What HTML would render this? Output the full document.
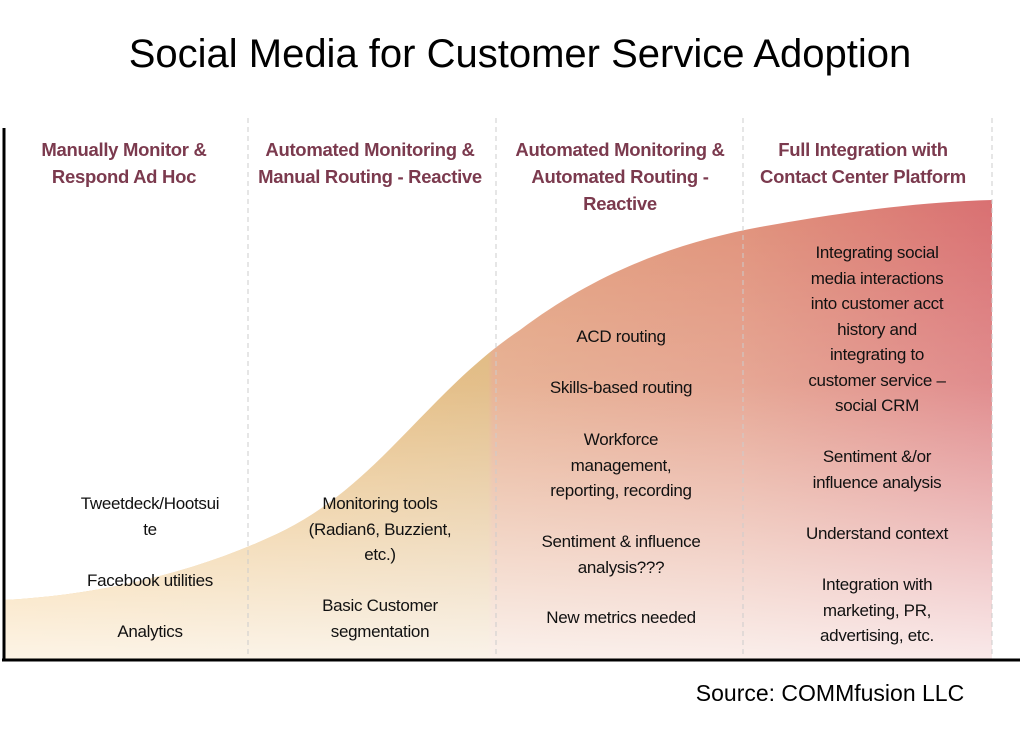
<!DOCTYPE html>
<html><head><meta charset="utf-8"><style>
body{margin:0;width:1024px;height:729px;background:#fff;position:relative;overflow:hidden;font-family:"Liberation Sans Narrow","Liberation Sans",sans-serif;}
.t{position:absolute;text-align:center;}
.h{color:#7b3a4e;font-weight:bold;font-size:18.5px;line-height:27px;letter-spacing:-0.3px;}
.b{color:#111;font-size:17px;line-height:25.5px;letter-spacing:-0.3px;}
</style></head><body>
<svg width="1024" height="729" style="position:absolute;left:0;top:0">
<defs>
<linearGradient id="hc" gradientUnits="userSpaceOnUse" x1="4" y1="0" x2="992" y2="0">
<stop offset="0" stop-color="#f0b65a"/><stop offset="0.49" stop-color="#dcaf6e"/><stop offset="0.495" stop-color="#e2a07c"/><stop offset="0.75" stop-color="#e0917a"/><stop offset="1" stop-color="#d97072"/>
</linearGradient>
<linearGradient id="vw" gradientUnits="userSpaceOnUse" x1="0" y1="200" x2="0" y2="660">
<stop offset="0" stop-color="#fff" stop-opacity="0"/><stop offset="0.4" stop-color="#fff" stop-opacity="0.2"/><stop offset="1" stop-color="#fff" stop-opacity="0.85"/>
</linearGradient>
</defs>
<path d="M4,600 C100,595 200,572 285,530 C380,482 430,390 520,330 C600,270 680,242 760,227 C850,211 920,202 992,200 L992,660 L4,660 Z" fill="url(#hc)"/>
<path d="M4,600 C100,595 200,572 285,530 C380,482 430,390 520,330 C600,270 680,242 760,227 C850,211 920,202 992,200 L992,660 L4,660 Z" fill="url(#vw)"/>
<g stroke="#ccc" stroke-dasharray="5,4" stroke-width="1">
<line x1="248" y1="118" x2="248" y2="658"/><line x1="496" y1="118" x2="496" y2="658"/><line x1="743" y1="118" x2="743" y2="658"/><line x1="992" y1="118" x2="992" y2="658"/>
</g>
<line x1="4" y1="128" x2="4" y2="661" stroke="#000" stroke-width="3"/>
<line x1="2" y1="660" x2="1020" y2="660" stroke="#000" stroke-width="3"/>
</svg>
<div class="t" style="left:0;width:1040px;top:32px;font-family:'Liberation Sans',sans-serif;font-size:40px;">Social Media for Customer Service Adoption</div>
<div class="t h" style="left:4px;width:240px;top:136px">Manually Monitor &amp;<br>Respond Ad Hoc</div>
<div class="t h" style="left:248px;width:244px;top:136px">Automated Monitoring &amp;<br>Manual Routing - Reactive</div>
<div class="t h" style="left:498px;width:244px;top:136px">Automated Monitoring &amp;<br>Automated Routing -<br>Reactive</div>
<div class="t h" style="left:743px;width:240px;top:136px">Full Integration with<br>Contact Center Platform</div>
<div class="t b" style="left:30px;width:240px;top:491px">Tweetdeck/Hootsui<br>te</div>
<div class="t b" style="left:30px;width:240px;top:568px">Facebook utilities</div>
<div class="t b" style="left:30px;width:240px;top:619px">Analytics</div>
<div class="t b" style="left:260px;width:240px;top:491px">Monitoring tools<br>(Radian6, Buzzient,<br>etc.)</div>
<div class="t b" style="left:260px;width:240px;top:593px">Basic Customer<br>segmentation</div>
<div class="t b" style="left:500px;width:242px;top:324px">ACD routing</div>
<div class="t b" style="left:500px;width:242px;top:375px">Skills-based routing</div>
<div class="t b" style="left:500px;width:242px;top:427px">Workforce<br>management,<br>reporting, recording</div>
<div class="t b" style="left:500px;width:242px;top:529px">Sentiment &amp; influence<br>analysis???</div>
<div class="t b" style="left:500px;width:242px;top:605px">New metrics needed</div>
<div class="t b" style="left:757px;width:240px;top:240px">Integrating social<br>media interactions<br>into customer acct<br>history and<br>integrating to<br>customer service –<br>social CRM</div>
<div class="t b" style="left:757px;width:240px;top:444px">Sentiment &amp;/or<br>influence analysis</div>
<div class="t b" style="left:757px;width:240px;top:521px">Understand context</div>
<div class="t b" style="left:757px;width:240px;top:572px">Integration with<br>marketing, PR,<br>advertising, etc.</div>
<div class="t" style="left:680px;width:300px;top:680px;font-family:'Liberation Sans',sans-serif;font-size:23px;">Source: COMMfusion LLC</div>
</body></html>
